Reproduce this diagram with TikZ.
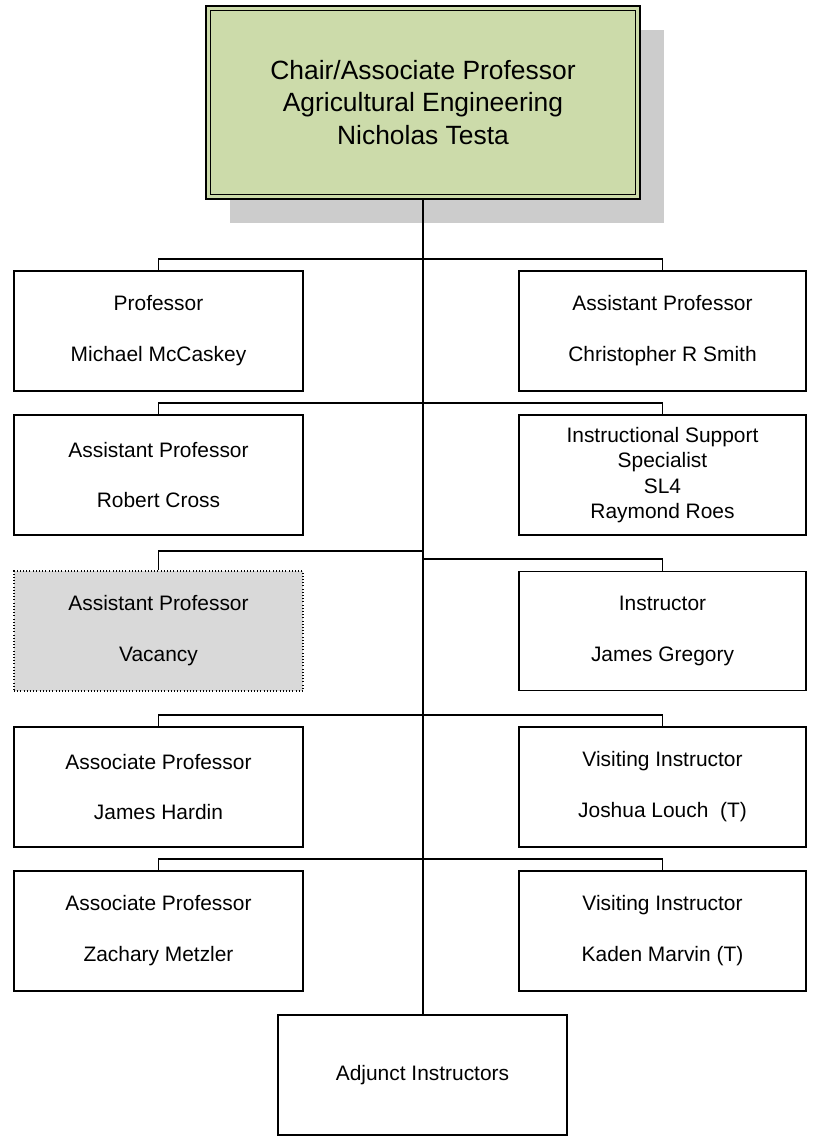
\documentclass[tikz,border=0pt]{standalone}
\usepackage{fontspec}
\setmainfont{Liberation Sans}
\definecolor{chairgreen}{RGB}{204,219,170}
\definecolor{shadowgray}{RGB}{204,204,204}
\definecolor{vacgray}{RGB}{217,217,217}
\begin{document}
\begin{tikzpicture}[x=1bp,y=-1bp,
  box/.style={draw=black, line width=1.6bp, rectangle, minimum width=289bp, minimum height=120bp,
    inner sep=0pt, align=center, font=\fontsize{21}{25.5}\selectfont},
  vacbox/.style={box, fill=vacgray, line width=1.2bp, dash pattern=on 1bp off 2.2bp},
  link/.style={draw=black, line width=1.6bp},
]
\useasboundingbox (0,0) rectangle (814,1138);
% shadow of chair box
\fill[shadowgray] (230,30) rectangle (664,223);
% chair box
\node[draw=black, line width=1.6bp, fill=chairgreen, rectangle, minimum width=434bp, minimum height=193bp,
  inner sep=0pt, align=center, font=\fontsize{26.5}{32.5}\selectfont] (chair) at (423,102.5)
  {Chair/Associate Professor\\Agricultural Engineering\\Nicholas Testa};
\draw[line width=1.1bp] ([xshift=5bp,yshift=-5bp]chair.north west) rectangle ([xshift=-5bp,yshift=5bp]chair.south east);

% left column
\node[box] (prof) at (158.5,331) {Professor\\[25.5bp]Michael McCaskey};
\node[box] (cross) at (158.5,475) {Assistant Professor\\[25.5bp]Robert Cross};
\node[vacbox] (vac) at (158.5,631) {Assistant Professor\\[25.5bp]Vacancy};
\node[box] (hardin) at (158.5,787) {Associate Professor\\[25.5bp]James Hardin};
\node[box] (metzler) at (158.5,931) {Associate Professor\\[25.5bp]Zachary Metzler};

% right column
\node[box, minimum width=287bp] (smith) at (662.5,331) {Assistant Professor\\[25.5bp]Christopher R Smith};
\node[box, minimum width=287bp] (roes) at (662.5,475) {Instructional Support\\Specialist\\SL4\\Raymond Roes};
\node[box, minimum width=287bp, minimum height=119bp] (gregory) at (662.5,631) {Instructor\\[25.5bp]James Gregory};
\node[box, minimum width=287bp] (louch) at (662.5,787) {Visiting Instructor\\[25.5bp]Joshua Louch~~(T)};
\node[box, minimum width=287bp] (marvin) at (662.5,931) {Visiting Instructor\\[25.5bp]Kaden Marvin (T)};

% bottom
\node[box] (adj) at (422.5,1075) {Adjunct Instructors};

% junctions on the trunk
\coordinate (j1) at (423,259);
\coordinate (j2) at (423,403);
\coordinate (j3l) at (423,551);
\coordinate (j3r) at (423,559);
\coordinate (j4) at (423,715);
\coordinate (j5) at (423,859);

% trunk
\draw[link] (chair.south) -- (chair.south |- adj.north);

% branches
\draw[link] (prof.north) |- (j1) -| (smith.north);
\draw[link] (cross.north) |- (j2) -| (roes.north);
\draw[link] (vac.north) |- (j3l);
\draw[link] (j3r) -| (gregory.north);
\draw[link] (hardin.north) |- (j4) -| (louch.north);
\draw[link] (metzler.north) |- (j5) -| (marvin.north);
\end{tikzpicture}
\end{document}
